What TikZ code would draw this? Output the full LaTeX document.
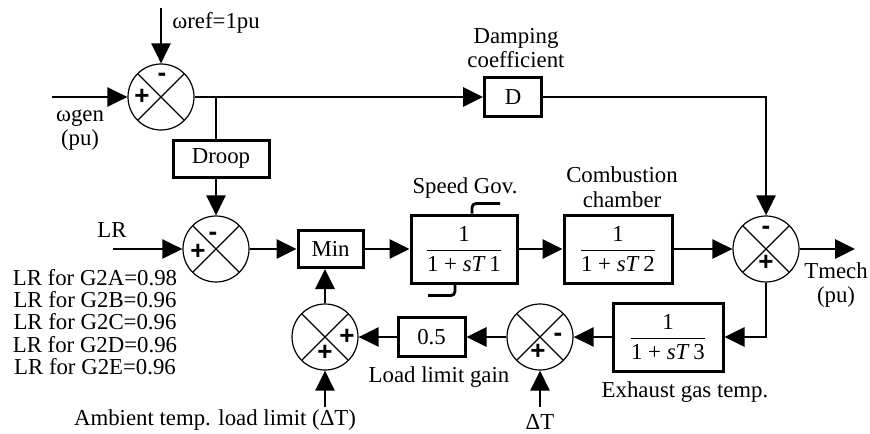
\documentclass[tikz,border=0pt]{standalone}
\usepackage{fontspec}
\setmainfont{Liberation Serif}
\newfontfamily\signfont{Liberation Sans}
\usetikzlibrary{arrows.meta,positioning,calc}
\newcommand{\lagfrac}[1]{$\displaystyle\frac{\mbox{1}}{\mbox{1 + \textit{sT}\,#1}}$}
\tikzset{
  gt/box/.style={
    draw=black,
    line width=1.5pt,
    fill=white,
    align=center,
    inner sep=0pt,
    font=\fontsize{11.4}{13}\selectfont
  },
  gt/sum/.style={
    circle,
    draw=black,
    line width=0.6pt,
    minimum size=33pt,
    inner sep=0pt,
    path picture={
      \draw[line width=0.6pt]
        (path picture bounding box.north west) -- (path picture bounding box.south east)
        (path picture bounding box.north east) -- (path picture bounding box.south west);
    }
  },
  gt/arrow/.style={-{Triangle[length=10pt,width=9.5pt]}, line width=1.4pt},
  gt/line/.style={line width=1.4pt},
  gt/sign/.style={font=\signfont\bfseries\fontsize{13}{13}\selectfont, inner sep=0pt},
  gt/label/.style={font=\fontsize{11.4}{12.4}\selectfont, align=center, inner sep=0pt}
}

\begin{document}
\begin{tikzpicture}[x=0.5pt,y=-0.5pt]
  \useasboundingbox (0,0) rectangle (870,433);

  % summing junctions
  \node[gt/sum] (s1) at (161,97) {};
  \node[gt/sum] (s2) at (216,249) {};
  \node[gt/sum] (s3) at (325,337) {};
  \node[gt/sum] (s4) at (766,249) {};
  \node[gt/sum] (s5) at (540,337) {};

  \node[gt/sign] (s1p) at (142,97) {+};
  \node[gt/sign] (s1m) at (162,77) {-};
  \node[gt/sign] (s2p) at (198,252) {+};
  \node[gt/sign] (s2m) at (213,236) {-};
  \node[gt/sign] (s3p) at (347,337) {+};
  \node[gt/sign] (s3q) at (325,353) {+};
  \node[gt/sign] (s4m) at (766,230) {-};
  \node[gt/sign] (s4p) at (766,263) {+};
  \node[gt/sign] (s5m) at (558,337) {-};
  \node[gt/sign] (s5p) at (538,352) {+};

  % blocks
  \node[gt/box,minimum width=48pt,minimum height=18.5pt] (droop) at (221,158.5) {Droop};
  \node[gt/box,minimum width=28.5pt,minimum height=19pt] (d) at (513,97) {D};
  \node[gt/box,minimum width=32.5pt,minimum height=18.5pt] (min) at (330.5,249) {Min};
  \node[gt/box,minimum width=53pt,minimum height=34pt] (t1) at (464,249) {\lagfrac{1}};
  \node[gt/box,minimum width=54pt,minimum height=34pt] (t2) at (618,249) {\lagfrac{2}};
  \node[gt/box,minimum width=55pt,minimum height=34pt] (t3) at (668,337) {\lagfrac{3}};
  \node[gt/box,minimum width=33.5pt,minimum height=19.5pt] (gain) at (431.5,337) {0.5};

  % free ends
  \coordinate (wref) at (161,8);
  \coordinate (wgen) at (52,97);
  \coordinate (br) at (216,97);
  \coordinate (lr) at (113,249);
  \coordinate (amb) at (325,407);
  \coordinate (dt) at (540,407);
  \coordinate (tm) at (855,249);

  % signal paths
  \draw[gt/arrow] (wref) -- (s1.north);
  \draw[gt/arrow] (wgen) -- (s1.west);
  \draw[gt/arrow] (s1.east) -- (d.west);
  \draw[gt/line] (br) -- (droop.north -| br);
  \draw[gt/arrow] (droop.south -| s2.north) -- (s2.north);
  \draw[gt/arrow] (lr) -- (s2.west);
  \draw[gt/arrow] (s2.east) -- (min.west);
  \draw[gt/arrow] (min.east) -- (t1.west);
  \draw[gt/arrow] (t1.east) -- (t2.west);
  \draw[gt/arrow] (t2.east) -- (s4.west);
  \draw[gt/arrow] (d.east) -| (s4.north);
  \draw[gt/arrow] (s4.east) -- (tm);
  \draw[gt/arrow] (s4.south) |- (t3.east);
  \draw[gt/arrow] (t3.west) -- (s5.east);
  \draw[gt/arrow] (s5.west) -- (gain.east);
  \draw[gt/arrow] (gain.west) -- (s3.east);
  \draw[gt/arrow] (s3.north) -- (s3.north |- min.south);
  \draw[gt/arrow] (amb) -- (s3.south);
  \draw[gt/arrow] (dt) -- (s5.south);

  % limiter marks on the governor
  \draw[gt/line,rounded corners=2pt] ([xshift=4pt]t1.north) |- ([xshift=18pt,yshift=5pt]t1.north);
  \draw[gt/line,rounded corners=2pt] ([xshift=-4.5pt]t1.south) |- ([xshift=-18pt,yshift=-5.5pt]t1.south);

  % labels
  \node[gt/label,anchor=west] (wreflbl) at (172,23) {ωref=1pu};
  \node[gt/label] (wgenlbl) at (80,130) {ωgen\\(pu)};
  \node[gt/label] (dlbl) at (516,48) {Damping\\coefficient};
  \node[gt/label] (lrlbl) at (112,230) {LR};
  \node[gt/label,font=\fontsize{11.4}{11.1}\selectfont] (lrlist) at (95,322)
    {LR for G2A=0.98\\LR for G2B=0.96\\LR for G2C=0.96\\LR for G2D=0.96\\LR for G2E=0.96};
  \node[gt/label] (t1lbl) at (465,188) {Speed Gov.};
  \node[gt/label] (t2lbl) at (622,187) {Combustion\\chamber};
  \node[gt/label] (tmlbl) at (836,285) {Tmech\\(pu)};
  \node[gt/label] (gainlbl) at (439,377) {Load limit gain};
  \node[gt/label] (t3lbl) at (685,392) {Exhaust gas temp.};
  \node[gt/label] (amblbl) at (215,420) {Ambient temp. load limit (ΔT)};
  \node[gt/label] (dtlbl) at (540,422) {ΔT};
\end{tikzpicture}
\end{document}
